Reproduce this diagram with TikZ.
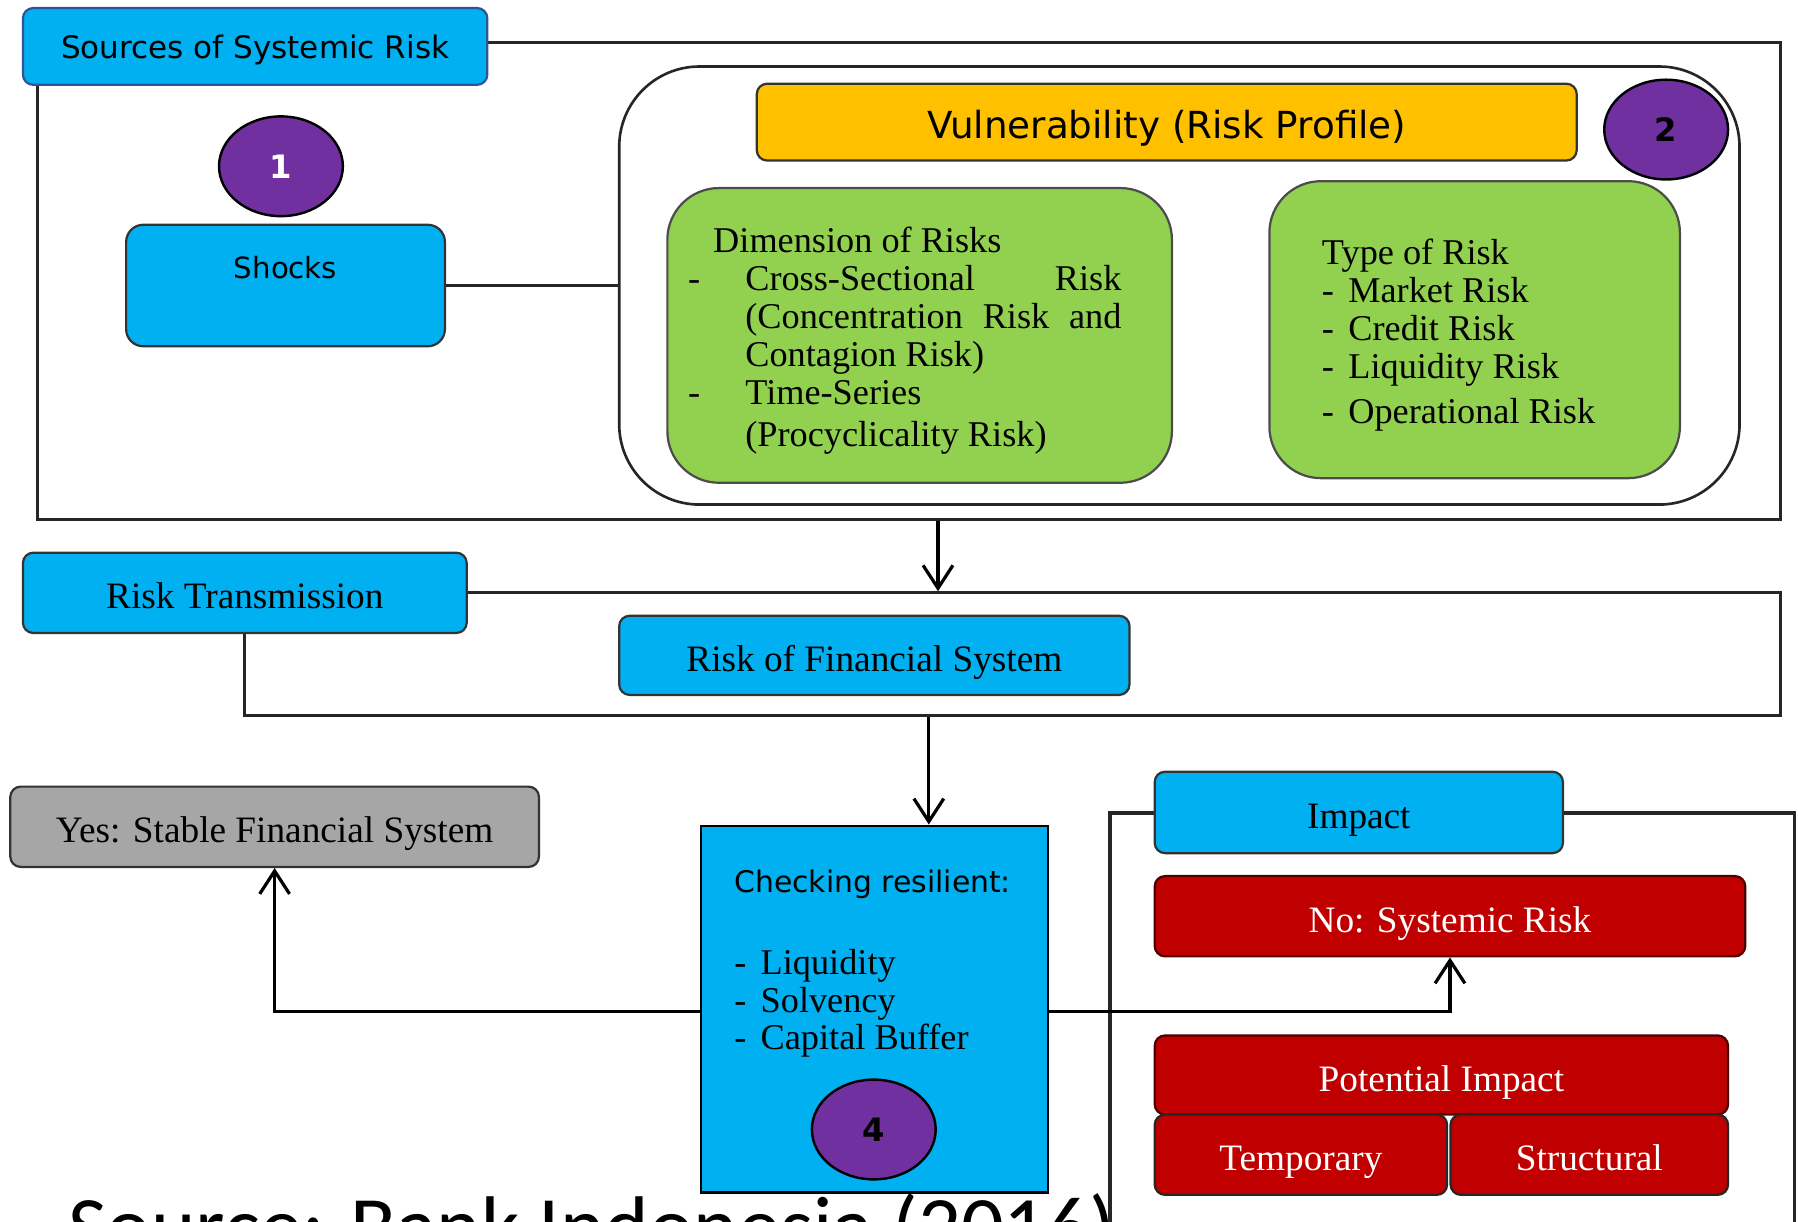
\documentclass[tikz,border=0pt]{standalone}
\usepackage{fontspec}
\setmainfont{Liberation Serif}
\newfontfamily\boxsans{DejaVu Sans}
\newfontfamily\notefont{Carlito}
\usetikzlibrary{arrows.meta,shapes.geometric}
\definecolor{skyblue}{HTML}{00B0F0}
\definecolor{amber}{HTML}{FFC000}
\definecolor{leaf}{HTML}{92D050}
\definecolor{plum}{HTML}{7030A0}
\definecolor{brick}{HTML}{C00000}
\definecolor{ash}{HTML}{A6A6A6}
\definecolor{navyline}{HTML}{2F5597}

\begin{document}
\begin{tikzpicture}[x=0.2mm,y=-0.2mm,
    link/.style={draw=black!85,line width=1.6pt},
    frame/.style={link,inner sep=0pt},
    box/.style={draw=black!80,line width=1.1pt,rounded corners=1.8mm,inner sep=0pt,
        font=\fontsize{18.5}{19}\selectfont},
    oneline/.style={text height=17pt,text depth=1pt},
    bluebox/.style={box,fill=skyblue},
    redbox/.style={box,oneline,fill=brick,text=white,draw=black!60!brick},
    greenbox/.style={box,fill=leaf,rounded corners=9mm,draw=black!70},
    badge/.style={ellipse,draw=black,line width=1.2pt,fill=plum,inner sep=0pt,
        minimum width=21.6mm,minimum height=17.4mm,font=\boxsans\bfseries\fontsize{16}{16}\selectfont},
    arr/.style={draw=black,line width=1.6pt,-{Straight Barb[length=4mm,width=5.2mm]}},
    list/.style={font=\fontsize{18}{18.8}\selectfont}]
    \useasboundingbox (0,0) rectangle (1568,1065);
    \clip (0,0) rectangle (1568,1065);

    \node[frame,minimum width=304mm,minimum height=83.2mm] (srcframe) at (793,245) {};
    \node[frame,minimum width=268mm,minimum height=21.4mm] (trframe) at (883,570.5) {};
    \node[frame,minimum width=119.4mm,minimum height=88.2mm] (impframe) at (1266.5,929.5) {};
    \node[frame,line width=1.3pt,rounded corners=14mm,minimum width=195.4mm,minimum height=76.4mm] (vulnframe) at (1028.5,249) {};

    \node[bluebox,text height=13pt,text depth=1pt,draw=navyline,font=\boxsans\fontsize{15.4}{18}\selectfont,minimum width=81mm,minimum height=13.4mm] (sources) at (222.5,40.5) {Sources of Systemic Risk};
    \node[bluebox,rounded corners=3mm,text height=8pt,text depth=15pt,font=\boxsans\fontsize{14.5}{18}\selectfont,minimum width=55.6mm,minimum height=21.2mm] (shocks) at (249,249) {Shocks};
    \node[box,oneline,fill=amber,font=\boxsans\fontsize{18.5}{20}\selectfont,minimum width=143mm,minimum height=13.4mm] (vuln) at (1017.5,106.5) {Vulnerability (Risk Profile)};
    \draw[link] (shocks) -- (vulnframe);

    \node[greenbox,list,minimum width=88mm,minimum height=51.4mm] (dimbox) at (802,292.5) {%
        \begin{tabular}{@{}p{2.6mm}@{\hspace{7.4mm}}p{65.6mm}@{\hspace{5.2mm}}}
        \noalign{\vskip 2.4mm}
        \multicolumn{2}{@{\hspace{4.4mm}}l}{Dimension of Risks}\\
        - & Cross-Sectional\hspace{\stretch{1}}Risk\\
          & (Concentration\hspace{\stretch{1}}Risk\hspace{\stretch{1}}and\\
          & Contagion Risk)\\
        - & Time-Series\\[0.8mm]
          & (Procyclicality Risk)
        \end{tabular}};
    \node[greenbox,list,minimum width=71.6mm,minimum height=51.8mm] (typebox) at (1286,287.5) {%
        \begin{tabular}{@{}l@{\hspace{2.5mm}}l@{\hspace{5.6mm}}}
        \noalign{\vskip 2.4mm}
        \multicolumn{2}{@{}l}{Type of Risk}\\
        - & Market Risk\\
        - & Credit Risk\\
        - & Liquidity Risk\\[1.2mm]
        - & Operational Risk
        \end{tabular}};

    \node[bluebox,oneline,minimum width=77.4mm,minimum height=14mm] (trans) at (213.5,517) {Risk Transmission};
    \node[bluebox,oneline,minimum width=89mm,minimum height=13.8mm] (rofs) at (762.5,571.5) {Risk of Financial System};
    \node[bluebox,sharp corners,draw=black,minimum width=60.6mm,minimum height=64mm] (check) at (762.5,880) {};
    \node[list,anchor=north west,inner sep=0pt] (checktxt) at (640,755) {%
        \begin{tabular}{@{}l@{\hspace{2.5mm}}l@{}}
        \multicolumn{2}{@{}l@{}}{\boxsans\fontsize{14.8}{18}\selectfont Checking resilient:}\\[7.6mm]
        - & Liquidity\\
        - & Solvency\\
        - & Capital Buffer
        \end{tabular}};
    \node[box,oneline,fill=ash,minimum width=92.2mm,minimum height=14mm] (yes) at (239.5,721) {Yes: Stable Financial System};
    \node[bluebox,oneline,minimum width=71.2mm,minimum height=14.2mm] (impact) at (1185,708.5) {Impact};
    \node[redbox,minimum width=103mm,minimum height=14mm] (norisk) at (1264.5,799) {No: Systemic Risk};
    \node[redbox,minimum width=100mm,minimum height=13.8mm] (potential) at (1257,937.5) {Potential Impact};
    \node[redbox,draw=black!85,minimum width=51mm,minimum height=14mm] (temporary) at (1134.5,1007) {Temporary};
    \node[redbox,draw=black!85,minimum width=48.4mm,minimum height=14mm] (structural) at (1386,1007) {Structural};

    \foreach \n/\x/\y/\c in {1/245/145/white,2/1453/113/black,4/762/985/black}
        \node[badge,text=\c] (badge\n) at (\x,\y) {\n};

    \coordinate (dropA) at (818,0);
    \coordinate (dropB) at (810,0);
    \coordinate (split) at (0,882);
    \draw[arr] (srcframe.south -| dropA) -- (trframe.north -| dropA);
    \draw[arr] (trframe.south -| dropB) -- (check.north -| dropB);
    \draw[arr] (check.west |- split) -| (yes.south);
    \draw[arr] (check.east |- split) -| (norisk.south);

    \node[anchor=base west,inner sep=0pt,font=\notefont\fontsize{42}{50}\selectfont] (source) at (59,1095) {Source: Bank Indonesia (2016)};
\end{tikzpicture}
\end{document}
